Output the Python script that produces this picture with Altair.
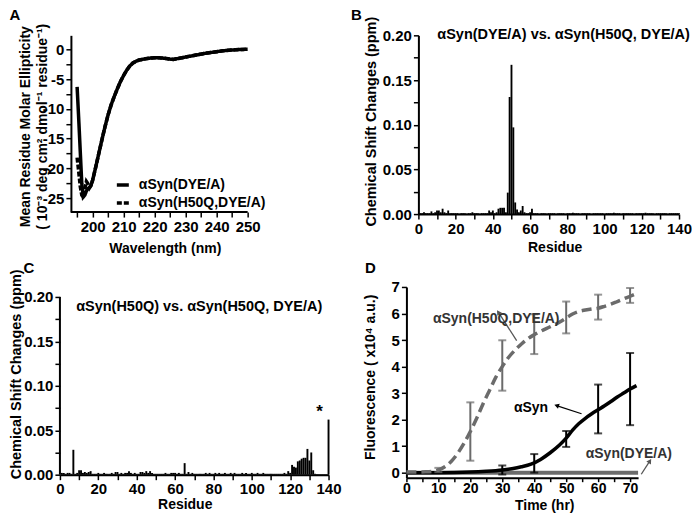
import math
import altair as alt
import pandas as pd

FONT = "Liberation Sans"
GRAY = "#6b6b6b"

# ---------------- Panel A : CD spectra ----------------
series_a = ["αSyn(DYE/A)", "αSyn(H50Q,DYE/A)"]
wl_dye = [195, 195.5, 196, 196.5, 197, 197.5, 198, 198.5, 199, 199.5, 200, 201, 202, 203, 204,
          205, 206, 207, 208, 209, 210, 211, 212, 213, 214, 215, 217, 219, 221, 223, 225, 226,
          227, 228, 230, 232, 234, 236, 238, 240, 242, 244, 246, 248, 250]
ell_dye = [-6.3, -11.5, -17.0, -22.5, -24.8, -24.5, -23.8, -23.4, -23.2, -22.8, -22.0, -19.8,
           -17.5, -15.2, -13.0, -11.0, -9.3, -7.9, -6.6, -5.4, -4.4, -3.5, -2.8, -2.3, -2.0,
           -1.8, -1.6, -1.45, -1.4, -1.5, -1.65, -1.7, -1.6, -1.5, -1.3, -1.1, -0.9, -0.7,
           -0.55, -0.4, -0.25, -0.15, -0.08, -0.02, 0.0]
wl_h50q = [195, 195.5, 196, 196.5, 197, 197.5, 198, 198.5, 199, 199.5, 200, 201, 202, 203, 204,
           205, 206, 207, 208, 209, 210, 211, 212, 213, 214, 215, 217, 219, 221, 223, 225, 226,
           227, 228, 230, 232, 234, 236, 238, 240, 242, 244, 246, 248, 250]
ell_h50q = [-18.2, -20.5, -23.0, -24.5, -24.9, -23.5, -22.2, -22.6, -23.3, -22.9, -22.0, -19.8,
            -17.5, -15.2, -13.0, -11.0, -9.3, -7.9, -6.6, -5.4, -4.4, -3.5, -2.8, -2.3, -2.0,
            -1.8, -1.6, -1.45, -1.4, -1.5, -1.65, -1.7, -1.6, -1.5, -1.3, -1.1, -0.9, -0.7,
            -0.55, -0.4, -0.25, -0.15, -0.08, -0.02, 0.0]
wl_ticks = [195, 200, 205, 210, 215, 220, 225, 230, 235, 240, 245, 250]
ell_ticks = [-25, -22.5, -20, -17.5, -15, -12.5, -10, -7.5, -5, -2.5, 0]
title_a_y = ["Mean Residue Molar Ellipticity", "( 10⁻³ deg cm² dmol⁻¹ residue⁻¹)"]
A_WL = [193, 250]          # extent of the wavelength axis line
A_ELL = [-27.35, 2.35]     # extent of the ellipticity axis

# ---------------- Panels B, C : chemical shift changes ----------------
residues = list(range(1, 141))
csp_b = [
    0.001, 0.001, 0.002, 0.001, 0.001, 0.001, 0.003, 0.001, 0.002, 0.004,
    0.004, 0.002, 0.006, 0.002, 0.001, 0.004, 0.001, 0.001, 0.001, 0.001,
    0.001, 0.0005, 0.001, 0.001, 0.001, 0.0005, 0.001, 0.001, 0.002, 0.001,
    0.001, 0.001, 0.0005, 0.001, 0.001, 0.001, 0.001, 0.004, 0.002, 0.004,
    0.001, 0.002, 0.006, 0.007, 0.007, 0.007, 0.002, 0.024, 0.131, 0.167,
    0.097, 0.013, 0.005, 0.002, 0.004, 0.009, 0.002, 0.001, 0.001, 0.002,
    0.006, 0.001, 0.001, 0.001, 0.0005, 0.001, 0.001, 0.001, 0.0005, 0.001,
    0.001, 0.001, 0.001, 0.0005, 0.001, 0.001, 0.001, 0.001, 0.0005, 0.001,
    0.001, 0.001, 0.0015, 0.001, 0.001, 0.001, 0.0005, 0.001, 0.001, 0.001,
    0.001, 0.001, 0.0005, 0.001, 0.001, 0.001, 0.001, 0.001, 0.001, 0.0005,
    0.001, 0.001, 0.001, 0.001, 0.0015, 0.001, 0.001, 0.001, 0.0005, 0.001,
    0.001, 0.001, 0.001, 0.001, 0.001, 0.0005, 0.001, 0.001, 0.001, 0.001,
    0.001, 0.0015, 0.001, 0.001, 0.001, 0.001, 0.0005, 0.001, 0.001, 0.001,
    0.001, 0.001, 0.001, 0.0005, 0.001, 0.001, 0.001, 0.001, 0.001, 0.001,
]
csp_c = [
    0.002, 0.002, 0.001, 0.002, 0.002, 0.001, 0.028, 0.001, 0.002, 0.005,
    0.005, 0.002, 0.003, 0.002, 0.003, 0.004, 0.001, 0.001, 0.001, 0.002,
    0.001, 0.001, 0.002, 0.001, 0.001, 0.001, 0.002, 0.001, 0.003, 0.003,
    0.001, 0.002, 0.001, 0.002, 0.002, 0.004, 0.002, 0.001, 0.002, 0.001,
    0.001, 0.003, 0.003, 0.002, 0.004, 0.002, 0.004, 0.002, 0.001, 0.001,
    0.001, 0.001, 0.001, 0.001, 0.002, 0.001, 0.001, 0.002, 0.002, 0.002,
    0.001, 0.002, 0.001, 0.001, 0.013, 0.001, 0.003, 0.001, 0.002, 0.001,
    0.001, 0.001, 0.001, 0.001, 0.001, 0.002, 0.001, 0.002, 0.001, 0.001,
    0.002, 0.001, 0.002, 0.001, 0.001, 0.002, 0.001, 0.001, 0.002, 0.001,
    0.002, 0.001, 0.001, 0.001, 0.002, 0.001, 0.002, 0.001, 0.001, 0.002,
    0.001, 0.001, 0.002, 0.001, 0.001, 0.002, 0.001, 0.001, 0.001, 0.001,
    0.001, 0.001, 0.001, 0.001, 0.001, 0.001, 0.002, 0.001, 0.004, 0.002,
    0.011, 0.009, 0.008, 0.015, 0.016, 0.018, 0.019, 0.019, 0.029, 0.016,
    0.025, 0.005, 0.001, 0.0005, 0.0005, 0.0005, 0.0005, 0.0005, 0.0005, 0.062,
]
residue_ticks = list(range(0, 141, 10))
csp_ticks = [0, 0.025, 0.05, 0.075, 0.1, 0.125, 0.15, 0.175, 0.2]
title_b = "αSyn(DYE/A) vs. αSyn(H50Q, DYE/A)"
title_c = "αSyn(H50Q) vs. αSyn(H50Q, DYE/A)"
star_residue = [135.3]
star_value = [0.071]

# ---------------- Panel D : aggregation kinetics ----------------
t_h50q = [0, 3, 6, 8, 10, 12, 14, 16, 18, 20, 22, 24, 26, 28, 30, 32, 34, 36, 38, 40, 42, 45,
          48, 50, 52, 54, 56, 58, 60, 62, 64, 66, 68, 70, 72]
f_h50q = [0.02, 0.02, 0.03, 0.05, 0.1, 0.22, 0.42, 0.72, 1.1, 1.55, 2.05, 2.6, 3.1, 3.6, 4.0,
          4.35, 4.62, 4.85, 5.05, 5.2, 5.33, 5.5, 5.68, 5.83, 5.98, 6.08, 6.13, 6.17, 6.2,
          6.27, 6.35, 6.45, 6.55, 6.65, 6.75]
t_syn = [0, 10, 20, 25, 30, 33, 36, 39, 42, 45, 48, 50, 52, 54, 56, 58, 60, 62, 64, 66, 68, 70, 72]
f_syn = [0.0, 0.0, 0.02, 0.05, 0.1, 0.15, 0.22, 0.32, 0.5, 0.75, 1.05, 1.3, 1.6, 1.85, 2.05,
         2.22, 2.37, 2.52, 2.68, 2.85, 3.0, 3.15, 3.28]
t_dye = [0, 10, 20, 30, 40, 50, 60, 70, 72.5]
f_dye = [0, 0, 0, 0, 0, 0, 0, 0, 0]

err_t_h50q = [10, 20, 30, 40, 50, 60, 70]
err_m_h50q = [0.1, 1.55, 4.04, 5.22, 5.85, 6.24, 6.68]
err_sd_h50q = [0.08, 1.1, 0.95, 0.75, 0.6, 0.47, 0.28]
err_t_syn = [30, 40, 50, 60, 70]
err_m_syn = [0.1, 0.35, 1.27, 2.4, 3.15]
err_sd_syn = [0.17, 0.35, 0.3, 0.92, 1.36]

time_ticks = list(range(0, 71, 5))
fl_ticks = [i / 2 for i in range(0, 15)]

ann_text = ["αSyn(H50Q,DYE/A)", "αSyn", "αSyn(DYE/A)"]
ann_t = [28.1, 39.0, 69.6]
ann_f = [5.8, 2.45, 0.72]
ann_color = ["#333333", "black", "#333333"]
arrow_t = [34.5, 54.8, 73.5]
arrow_f = [4.98, 2.22, -0.06]
arrow_t2 = [28.75, 47.0, 76.2]
arrow_f2 = [6.05, 2.53, 0.44]
arrow_color = ["#555555", "black", "#555555"]

# ---------------- sizes ----------------
A_PAD = 11                      # A's axes sit 11px right of C's
WA, HA = 177 + A_PAD, 177
WB, HB = 261, 179
C_PAD = 10                      # C's plot starts 10px below D's
WC, HC = 269, 178 + C_PAD
WD, HD = 232, 191
D_X = [0, 72.5]
D_Y = [-0.19, 7.0]
A_X_DOMAIN = [A_WL[0] - A_PAD * (A_WL[1] - A_WL[0]) / 177, A_WL[1]]
C_Y_DOMAIN = [0, 0.2 + C_PAD * 0.2 / 178]

AX = dict(labelOverlap=False, labelFlush=False, titleBaseline="middle", titleAlign="center")


def letter(txt, dx, dy):
    return alt.Chart(pd.DataFrame({"k": [txt]})).mark_text(
        font=FONT, fontSize=15, fontWeight="bold", color="black", baseline="middle", align="center"
    ).encode(x=alt.value(dx), y=alt.value(dy), text="k:N")


# ---- Panel A
SAX = alt.Scale(domain=A_X_DOMAIN, nice=False, zero=False)
SAY = alt.Scale(domain=A_ELL, nice=False, zero=False)
AXA_X = alt.Axis(values=wl_ticks, labelExpr="datum.value % 10 == 0 ? datum.label : ''",
                 title="Wavelength (nm)", titleX=105, titleY=36, domain=False, **AX)
AXA_Y = alt.Axis(values=ell_ticks,
                 labelExpr="datum.value % 5 == 0 ? replace(datum.label, '\u2212', '-') : ''",
                 title=title_a_y, titleX=-45.5, titleY=91, titleAngle=270, titleLineHeight=17,
                 offset=-A_PAD, **AX)

df_a = pd.concat([
    pd.DataFrame({"wl": wl_dye, "ell": ell_dye, "series": series_a[0]}),
    pd.DataFrame({"wl": wl_h50q, "ell": ell_h50q, "series": series_a[1]}),
])
lines_a = alt.Chart(df_a).mark_line(color="black", strokeWidth=3.5).encode(
    x=alt.X("wl:Q", scale=SAX, axis=AXA_X),
    y=alt.Y("ell:Q", scale=SAY, axis=AXA_Y),
    strokeDash=alt.StrokeDash("series:N", scale=alt.Scale(domain=series_a, range=[[1, 0], [5, 2]]),
                              legend=alt.Legend(orient="none", legendX=55, legendY=142, title=None,
                                                symbolType="stroke", symbolSize=144,
                                                symbolStrokeWidth=3.5, symbolStrokeColor="black",
                                                labelFont=FONT, labelFontSize=14,
                                                labelFontWeight="bold", labelColor="black",
                                                labelOffset=8, rowPadding=3, padding=0)),
)
axis_line_a = alt.Chart(pd.DataFrame({"wl": [A_WL[0]], "wl2": [A_WL[1]], "ell": [A_ELL[0]]})).mark_rule(
    color="black", strokeWidth=2).encode(
    x=alt.X("wl:Q", scale=SAX, axis=AXA_X), x2="wl2:Q", y=alt.Y("ell:Q", scale=SAY, axis=AXA_Y))
panel_a = alt.layer(lines_a, axis_line_a, letter("A", -45, -20)).properties(width=WA, height=HA)


# ---- Panels B and C
def csp_panel(values, y_domain, title_spec, title_x, title_y, tx, ty, let, lx, ly, w, h,
              star_layer=False, draw_y_line=False):
    sx = alt.Scale(domain=[0, 140], nice=False)
    sy = alt.Scale(domain=y_domain, nice=False)
    ax_x = alt.Axis(values=residue_ticks, labelExpr="datum.value % 20 == 0 ? datum.label : ''",
                    title="Residue", titleX=tx, titleY=ty, **AX)
    ax_y = alt.Axis(values=csp_ticks, format=".2f",
                    labelExpr="round(datum.value * 40) % 2 == 0 ? datum.label : ''",
                    title="Chemical Shift Changes (ppm)", titleX=title_x, titleY=title_y,
                    titleAngle=270, titleFontSize=14.5, domain=not draw_y_line, **AX)
    df = pd.DataFrame({"res": residues, "v": values})
    bars = alt.Chart(df).transform_calculate(
        r0="datum.res - 0.5", r1="datum.res + 0.5"
    ).mark_bar(color="black").encode(
        x=alt.X("r0:Q", scale=sx, axis=ax_x), x2="r1:Q",
        y=alt.Y("v:Q", scale=sy, axis=ax_y), y2=alt.datum(0),
    )
    layers = [bars]
    layers.append(alt.Chart(pd.DataFrame({"res": [title_spec[1]], "v": [title_spec[2]],
                                          "txt": [title_spec[0]]})).mark_text(
        font=FONT, fontSize=14.5, fontWeight="bold", color="black", baseline="middle", align="center"
    ).encode(x=alt.X("res:Q", scale=sx, axis=ax_x), y=alt.Y("v:Q", scale=sy, axis=ax_y),
             text="txt:N"))
    if star_layer:
        layers.append(alt.Chart(pd.DataFrame({"res": star_residue, "v": star_value,
                                              "txt": ["*"]})).mark_text(
            font=FONT, fontSize=17, fontWeight="bold", color="black", baseline="middle",
            align="center"
        ).encode(x=alt.X("res:Q", scale=sx, axis=ax_x), y=alt.Y("v:Q", scale=sy, axis=ax_y),
                 text="txt:N"))
    if draw_y_line:
        layers.append(alt.Chart(pd.DataFrame({"res": [0], "v": [0], "v2": [0.2]})).mark_rule(
            color="black", strokeWidth=2).encode(
            x=alt.X("res:Q", scale=sx, axis=ax_x), y=alt.Y("v:Q", scale=sy, axis=ax_y), y2="v2:Q"))
    layers.append(letter(let, lx, ly))
    return alt.layer(*layers).properties(width=w, height=h)


panel_b = csp_panel(csp_b, [0, 0.2], (title_b, 78, 0.2), -46.5, 86, 136.5, 33, "B", -62, -20,
                    WB, HB)
panel_c = csp_panel(csp_c, C_Y_DOMAIN, (title_c, 72.6, 0.189), -43.5, 87, 125, 30, "C", -31, -19,
                    WC, HC, star_layer=True, draw_y_line=True)

# ---- Panel D
SX = alt.Scale(domain=D_X, nice=False, zero=False)
SY = alt.Scale(domain=D_Y, nice=False, zero=False)
AXD_X = alt.Axis(values=time_ticks, labelExpr="datum.value % 10 == 0 ? datum.label : ''",
                 title="Time (hr)", titleX=138, titleY=28, labelFontSize=14, labelPadding=0,
                 tickSize=4, **AX)
AXD_Y = alt.Axis(values=fl_ticks, format="d", labelExpr="datum.value % 1 == 0 ? datum.label : ''",
                 title="Fluorescence ( x10⁴ a.u.)", titleX=-36, titleY=90, titleAngle=270, **AX)


def dx_(field):
    return alt.X(field, scale=SX, axis=AXD_X)


def dy_(field):
    return alt.Y(field, scale=SY, axis=AXD_Y)


dye_line = alt.Chart(pd.DataFrame({"t": t_dye, "f": f_dye})).mark_line(
    color=GRAY, strokeWidth=4).encode(x=dx_("t:Q"), y=dy_("f:Q"))
syn_line = alt.Chart(pd.DataFrame({"t": t_syn, "f": f_syn})).mark_line(
    color="black", strokeWidth=3.5, interpolate="monotone").encode(x=dx_("t:Q"), y=dy_("f:Q"))
h50q_line = alt.Chart(pd.DataFrame({"t": t_h50q, "f": f_h50q})).mark_line(
    color=GRAY, strokeWidth=3.5, strokeDash=[10, 5], interpolate="monotone").encode(
    x=dx_("t:Q"), y=dy_("f:Q"))


def errbars(ts, ms, sds, color):
    df = pd.DataFrame({"t": ts, "m": ms, "sd": sds})
    base = alt.Chart(df).transform_calculate(lo="datum.m - datum.sd", hi="datum.m + datum.sd")
    rule = base.mark_rule(color=color, strokeWidth=2).encode(
        x=dx_("t:Q"), y=dy_("lo:Q"), y2="hi:Q")
    cap_lo = base.mark_tick(color=color, orient="horizontal", size=8, thickness=2).encode(
        x=dx_("t:Q"), y=dy_("lo:Q"))
    cap_hi = base.mark_tick(color=color, orient="horizontal", size=8, thickness=2).encode(
        x=dx_("t:Q"), y=dy_("hi:Q"))
    return [rule, cap_lo, cap_hi]


px_x = WD / (D_X[1] - D_X[0])
px_y = HD / (D_Y[1] - D_Y[0])
heads = []
for i in range(3):
    ddx = (arrow_t2[i] - arrow_t[i]) * px_x
    ddy = -(arrow_f2[i] - arrow_f[i]) * px_y
    heads.append(math.degrees(math.atan2(ddx, -ddy)) % 360)

df_arrow = pd.DataFrame({"t": arrow_t, "f": arrow_f, "t2": arrow_t2, "f2": arrow_f2,
                         "col": arrow_color, "ang": heads})
arrow_rules = alt.Chart(df_arrow).mark_rule(strokeWidth=1.3).encode(
    x=dx_("t:Q"), y=dy_("f:Q"), x2="t2:Q", y2="f2:Q", color=alt.Color("col:N", scale=None))
arrow_heads = alt.Chart(df_arrow).mark_point(shape="triangle-up", filled=True, size=30,
                                             opacity=1).encode(
    x=dx_("t2:Q"), y=dy_("f2:Q"),
    color=alt.Color("col:N", scale=None), angle=alt.Angle("ang:Q", scale=None))
ann = alt.Chart(pd.DataFrame({"t": ann_t, "f": ann_f, "txt": ann_text, "col": ann_color})).mark_text(
    font=FONT, fontSize=14, fontWeight="bold", baseline="middle", align="center"
).encode(x=dx_("t:Q"), y=dy_("f:Q"), text="txt:N", color=alt.Color("col:N", scale=None))

panel_d = alt.layer(
    dye_line, syn_line, h50q_line,
    *errbars(err_t_h50q, err_m_h50q, err_sd_h50q, GRAY),
    *errbars(err_t_syn, err_m_syn, err_sd_syn, "black"),
    arrow_rules, arrow_heads, ann,
    letter("D", -36, -19),
).properties(width=WD, height=HD)

# ---------------- layout ----------------
row1 = alt.hconcat(panel_a, panel_b, spacing=90)
row2 = alt.hconcat(panel_c, panel_d, spacing=21)
chart = alt.vconcat(row1, row2, spacing=6).properties(
    padding=0, background="white"
).configure_view(stroke=None).configure_axis(
    domainColor="black", domainWidth=2, tickColor="black", tickWidth=1.5, tickSize=5,
    labelFont=FONT, labelFontSize=15, labelFontWeight="bold", labelColor="black", labelPadding=2,
    titleFont=FONT, titleFontSize=14, titleFontWeight="bold", titleColor="black", grid=False,
)

chart.save("out.html", embed_options={"renderer": "svg", "actions": False})
